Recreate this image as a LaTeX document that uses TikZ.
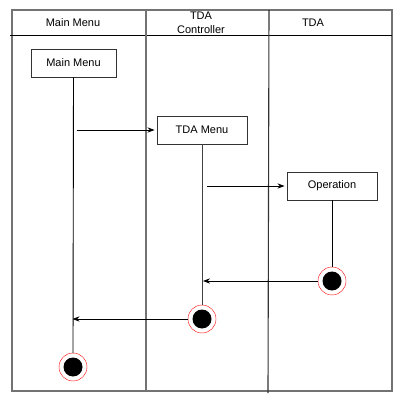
\documentclass[tikz,border=0pt]{standalone}
\usepackage{fontspec}
\setmainfont{Liberation Sans}
\usetikzlibrary{calc,positioning,arrows.meta}
\tikzset{state/.style={draw=black!80,line width=0.9pt,rectangle,minimum width=90pt,minimum
height=28pt,inner sep=0pt,text=black},endstate/.style={draw=red,fill=white,circle,minimum
size=28pt,inner sep=0pt,path picture={\fill[black] (path picture bounding box.center) circle (9.5pt);}}}
\tikzstyle{lane}  = [draw=black!55, line width=1.2pt]
\tikzstyle{msg}   = [->,>=Stealth,line width=0.9pt]

\begin{document}
\begin{tikzpicture}[x=1pt,y=-1pt,font=\fontsize{11}{14}\selectfont,
			life/.style={black,line width=0.9pt}]
		\useasboundingbox (0,0) rectangle (404,403);
		% swimlanes
		\draw[lane] (12,10) rectangle (392,391);
		\draw[black, line width=0.9pt] (10,35) -- (392,35);
		\draw[lane] (146,10) -- (146,391);
		\draw[black!80, line width=1.1pt] (269,10) -- (268,393);
		\node (hmm) at (73,23) {Main Menu};
		\node[align=center, inner sep=0pt] (htc) at (201,23) {TDA\\Controller};
		\node (htda) at (313,23) {TDA};

		% states
		\node[state,minimum width=85pt] (mm) at (73.5,63) {Main Menu};
		\node[state] (tdam) at (202,130) {TDA Menu};
		\node[state] (op) at (332,186) {Operation};
		\node[endstate] (endop) at (332,281) {};
		\node[endstate] (endtdam) at (202,319) {};
		\node[endstate] (endmm) at (73,367) {};

		% lifelines
		\draw[life] (mm.south) -- (endmm.north);
		\draw[life,black!75] (tdam.south) -- (endtdam.north);
		\draw[life] (op.south) -- (endop.north);

		% messages
		\draw[msg] ($(mm.south |- tdam.west)+(3,0)$) -- ([xshift=-2pt]tdam.west);
		\draw[msg] ($(tdam.south |- op.west)+(5,0)$) -- ([xshift=-2pt]op.west);
		\draw[msg] (endop.west) -- ($(tdam.south |- endop.west)+(1,0)$);
		\draw[msg] (endtdam.west) -- ($(mm.south |- endtdam.west)+(-1,0)$);
	\end{tikzpicture}
\end{document}
